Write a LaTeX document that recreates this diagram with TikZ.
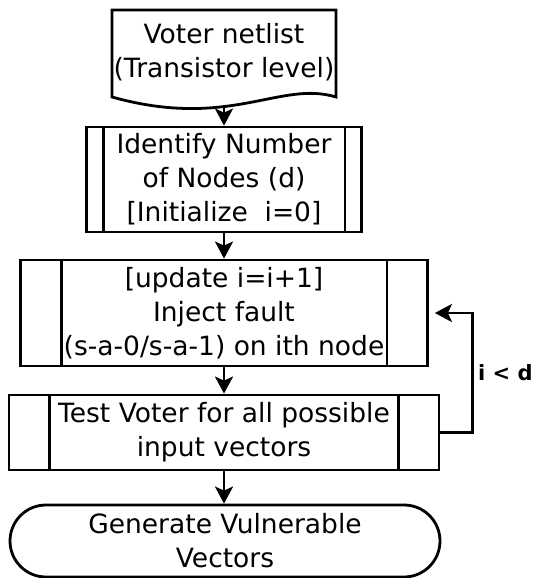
\documentclass[tikz,border=0pt]{standalone}
\usepackage{fontspec}
\setmainfont{DejaVu Sans}
\usetikzlibrary{arrows.meta,shapes.misc}

\begin{document}
\begin{tikzpicture}[x=1pt,y=-1pt,line width=2.8pt,
  box/.style={draw, rectangle, align=center, inner sep=0pt, font=\fontsize{26.5}{34}\selectfont},
  txt/.style={align=center, inner sep=0pt, font=\fontsize{26.5}{34}\selectfont},
  arr/.style={-{Stealth[length=17pt,width=18pt,inset=4pt]}}]
\useasboundingbox (0,0) rectangle (535,578);
% netlist (document shape)
\draw (112,10) -- (336,10) -- (336,97) .. controls (280,80) and (230,130) .. (112,97) -- cycle;
\node[txt] (net) at (224,52) {Voter netlist\\(Transistor level)};
\coordinate (netb) at (224,106);
% predefined processes
\node[box, minimum width=275pt, minimum height=105pt] (find) at (224,179.5) {Identify Number\\of Nodes (d)\\{[Initialize\ \ i=0]}};
\draw ([xshift=18pt]find.north west) -- ([xshift=18pt]find.south west);
\draw ([xshift=-18pt]find.north east) -- ([xshift=-18pt]find.south east);
\node[box, minimum width=407pt, minimum height=106pt] (inject) at (224,313) {[update i=i+1]\\Inject fault\\(s-a-0/s-a-1) on ith node};
\draw ([xshift=42pt]inject.north west) -- ([xshift=42pt]inject.south west);
\draw ([xshift=-42pt]inject.north east) -- ([xshift=-42pt]inject.south east);
\node[box, minimum width=430pt, minimum height=75pt] (test) at (224,432.5) {Test Voter for all possible\\input vectors};
\draw ([xshift=42pt]test.north west) -- ([xshift=42pt]test.south west);
\draw ([xshift=-42pt]test.north east) -- ([xshift=-42pt]test.south east);
% terminator
\node[box, rounded rectangle, minimum width=430pt, minimum height=72pt] (gen) at (225,541) {Generate Vulnerable\\Vectors};
% connectors
\draw[arr] (netb) -- (find.north);
\draw[arr] (find.south) -- (inject.north);
\draw[arr] (inject.south) -- (test.north);
\draw[arr] (test.south) -- (test.south |- gen.north);
\draw[arr] (test.east) -- ++(32,0) |- ([xshift=6pt]inject.east);
\node[anchor=east, inner sep=0pt, font=\fontsize{21}{25}\selectfont\bfseries] (cond) at (534,373) {i < d};
\end{tikzpicture}
\end{document}
